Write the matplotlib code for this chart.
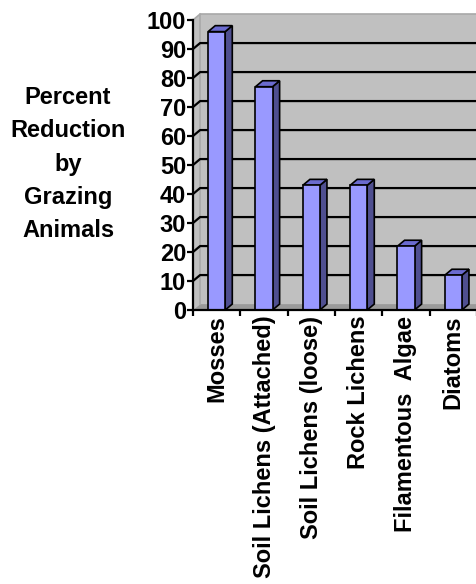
import numpy as np
import matplotlib
matplotlib.use("Agg")
import matplotlib.pyplot as plt
from matplotlib.patches import Polygon, Rectangle

# -----------------------------
# Data
# -----------------------------
categories = ["Mosses", "Soil Lichens (Attached)", "Soil Lichens (loose)",
              "Rock Lichens", "Filamentous  Algae", "Diatoms"]
reduction = [96, 77, 43, 43, 22, 12]
yticks = list(range(0, 101, 10))

plt.rcParams['font.family'] = ['Liberation Sans', 'DejaVu Sans']
plt.rcParams['font.weight'] = 'bold'

W, H = 477, 584
fig = plt.figure(figsize=(W / 100, H / 100), dpi=100)
ax = fig.add_axes([193 / W, 1 - 310 / H, 284 / W, 290 / H])
n = len(categories)
ax.set_xlim(0, n)
ax.set_ylim(0, 100)
ax.patch.set_visible(False)

# 3-D depth offset in data units
dx, dy = 0.15, 2.05

# -----------------------------
# Walls and floor
# -----------------------------
wall = '#c0c0c0'
floor_c = '#9a9a9a'
border = '#a8a8a8'
ax.add_patch(Polygon([(dx, dy), (n + dx, dy), (n + dx, 100 + dy), (dx, 100 + dy)],
                     closed=True, fc=wall, ec='none', clip_on=False, zorder=0))
ax.add_patch(Polygon([(0, 0), (dx, dy), (dx, 100 + dy), (0, 100)],
                     closed=True, fc=wall, ec='none', clip_on=False, zorder=0))
ax.add_patch(Polygon([(0, 0), (n, 0), (n + dx, dy), (dx, dy)],
                     closed=True, fc=floor_c, ec='none', clip_on=False, zorder=0.5))
# wall borders
ax.plot([dx, dx, n + dx], [dy, 100 + dy, 100 + dy], color=border, lw=1.2,
        clip_on=False, zorder=0.6)
ax.plot([0, dx], [100, 100 + dy], color=border, lw=1.2, clip_on=False, zorder=0.6)

# gridlines across the side wall and back wall
for v in yticks[1:-1]:
    ax.plot([0, dx, n + dx], [v, v + dy, v + dy], color='black', lw=1.6,
            clip_on=False, zorder=1)

# -----------------------------
# 3-D style bars
# -----------------------------
bw = 0.36
front_c = '#9999ff'
side_c = '#4f4f90'
top_c = '#6b6bcf'
for i, v in enumerate(reduction):
    c = i + 0.5
    x0, x1 = c - bw / 2, c + bw / 2
    ax.add_patch(Polygon([(x1, 0), (x1 + dx, dy), (x1 + dx, v + dy), (x1, v)],
                         closed=True, fc=side_c, ec='black', lw=1.2,
                         clip_on=False, zorder=3))
    ax.add_patch(Polygon([(x0, v), (x0 + dx, v + dy), (x1 + dx, v + dy), (x1, v)],
                         closed=True, fc=top_c, ec='black', lw=1.2,
                         clip_on=False, zorder=3))
    ax.add_patch(Rectangle((x0, 0), bw, v, fc=front_c, ec='black', lw=1.2,
                           clip_on=False, zorder=4))

# -----------------------------
# Axes, ticks and labels
# -----------------------------
for s in ['top', 'right']:
    ax.spines[s].set_visible(False)
for s in ['left', 'bottom']:
    ax.spines[s].set_linewidth(1.6)
    ax.spines[s].set_zorder(5)

ax.set_yticks(yticks)
ax.set_yticklabels([str(t) for t in yticks], fontsize=17, fontweight='bold')
ax.tick_params(axis='y', direction='out', length=4, width=1.6, pad=1)

ax.set_xticks(np.arange(n + 1))
ax.set_xticklabels([])
ax.tick_params(axis='x', which='major', direction='out', length=4, width=1.6)
ax.set_xticks(np.arange(n) + 0.5, minor=True)
ax.set_xticklabels(categories, minor=True, rotation=90, fontsize=17,
                   fontweight='bold')
ax.tick_params(axis='x', which='minor', length=0, pad=4)

fig.text(68 / W, 1 - 164 / H, "Percent\nReduction\nby\nGrazing\nAnimals",
         ha='center', va='center', multialignment='center', fontsize=17,
         fontweight='bold', linespacing=1.58)

fig.savefig("out.png", dpi=100, facecolor='white')
